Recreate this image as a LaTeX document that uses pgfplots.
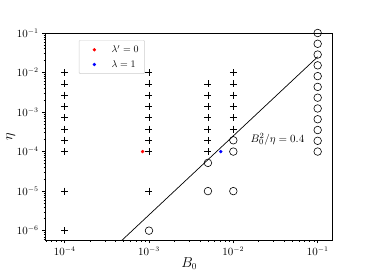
\documentclass[border=0pt]{standalone}
\usepackage{pgfplots}
\pgfplotsset{compat=1.18}
\begin{document}
\begin{tikzpicture}
\begin{axis}[
  scale only axis, width=287pt, height=207pt,
  xmode=log, ymode=log,
  xmin=5.96e-5, xmax=0.1507, ymin=5.8e-7, ymax=0.1,
  tick align=outside, xtick pos=left, ytick pos=left,
  major tick length=3.5pt, minor tick length=2pt,
  tick style={black, line width=0.5pt},
  axis line style={line width=0.6pt},
  ticklabel style={font=\fontsize{10.5}{12}\selectfont},
  label style={font=\fontsize{13.5}{16}\selectfont},
  xlabel={$B_0$}, ylabel={$\eta$},
  xlabel style={yshift=5pt},
  ylabel style={yshift=-5pt},
  clip=true,
  legend style={at={(0.116,0.966)}, anchor=north west, draw=black!20, fill=white,
    font=\fontsize{10}{12}\selectfont, rounded corners=1pt, row sep=2pt,
    inner xsep=4pt, inner ysep=3pt},
  legend cell align=left,
]
% crosses
\addplot[only marks, mark=+, mark size=3.5pt, mark options={line width=0.6pt}, black, forget plot] coordinates {
(1e-4,1e-2) (1e-4,5.179e-3) (1e-4,2.683e-3) (1e-4,1.389e-3) (1e-4,7.197e-4) (1e-4,3.728e-4) (1e-4,1.931e-4) (1e-4,1e-4) (1e-4,1e-5) (1e-4,1e-6)
(1e-3,1e-2) (1e-3,5.179e-3) (1e-3,2.683e-3) (1e-3,1.389e-3) (1e-3,7.197e-4) (1e-3,3.728e-4) (1e-3,1.931e-4) (1e-3,1e-4) (1e-3,1e-5)
(5e-3,5.179e-3) (5e-3,2.683e-3) (5e-3,1.389e-3) (5e-3,7.197e-4) (5e-3,3.728e-4) (5e-3,1.931e-4) (5e-3,1e-4)
(1e-2,1e-2) (1e-2,5.179e-3) (1e-2,2.683e-3) (1e-2,1.389e-3) (1e-2,7.197e-4) (1e-2,3.728e-4)
};
% circles
\addplot[only marks, mark=o, mark size=3.8pt, mark options={line width=0.6pt}, black, forget plot] coordinates {
(1e-3,1e-6)
(5e-3,5.18e-5) (5e-3,1e-5)
(1e-2,1.931e-4) (1e-2,1e-4) (1e-2,1e-5)
(0.1,0.1) (0.1,0.05337) (0.1,0.02848) (0.1,0.0152) (0.1,8.111e-3) (0.1,4.329e-3) (0.1,2.310e-3) (0.1,1.233e-3) (0.1,6.58e-4) (0.1,3.511e-4) (0.1,1.874e-4) (0.1,1e-4)
};
% dots
\addplot[only marks, mark=*, mark size=1.5pt, color=red, forget plot] coordinates {(8.4e-4,1e-4)};
\addplot[only marks, mark=*, mark size=1.5pt, color=blue, forget plot] coordinates {(7.1e-3,1e-4)};
\addlegendimage{legend image code/.code={\path (0pt,0pt) (26pt,0pt); \fill[red] (11pt,0pt) circle (1.5pt);}}
\addlegendentry{$\lambda' = 0$}
\addlegendimage{legend image code/.code={\path (0pt,0pt) (26pt,0pt); \fill[blue] (11pt,0pt) circle (1.5pt);}}
\addlegendentry{$\lambda = 1$}
% line B0^2/eta = 0.4
\addplot[black, line width=0.7pt, forget plot] coordinates {(4e-4,4e-7) (0.1,0.025)};
\node[anchor=west, font=\fontsize{11}{13}\selectfont] at (axis cs:0.0146,2.1e-4) {$B_0^2/\eta = 0.4$};
\coordinate (sw) at (rel axis cs:0,0);
\coordinate (ne) at (rel axis cs:1,1);
\end{axis}
\path (sw) ++(-45.7pt,-30pt) coordinate (A);
\path (ne) ++(37.3pt,33pt) coordinate (B);
\pgfresetboundingbox
\useasboundingbox (A) rectangle (B);
\end{tikzpicture}
\end{document}
